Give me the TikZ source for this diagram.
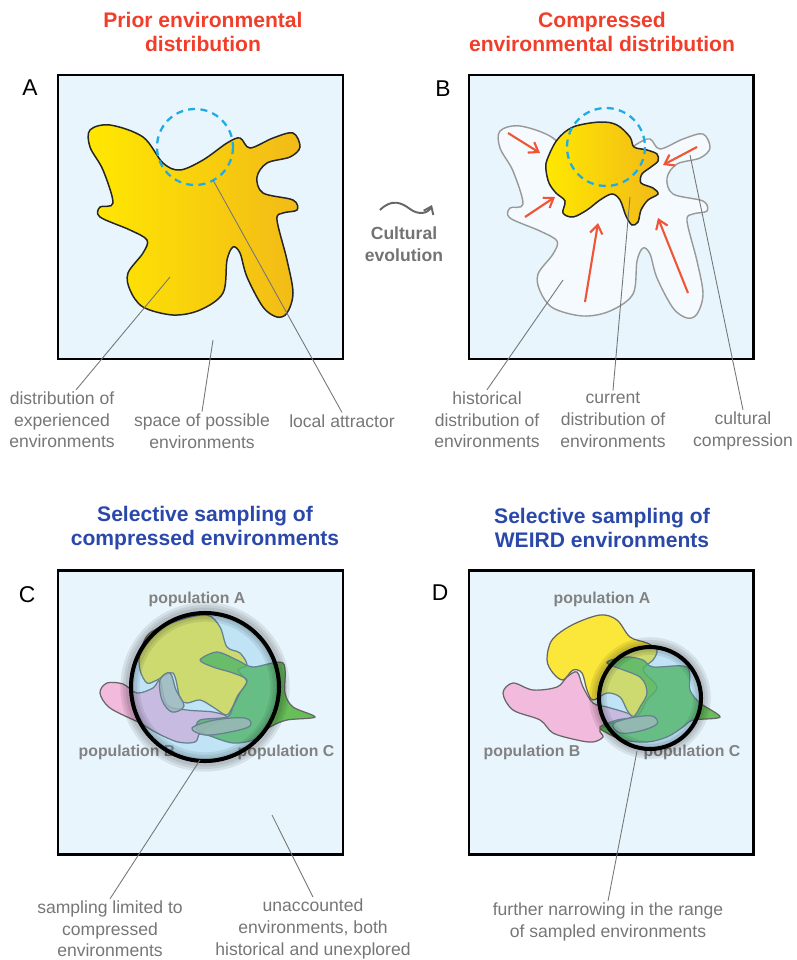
\documentclass[tikz,border=0pt]{standalone}
\usepackage{fontspec}
\setmainfont{Liberation Sans}
\usepackage{tikz}
\usetikzlibrary{arrows.meta,positioning,calc}
\usepackage{xcolor}

\definecolor{bgblue}{RGB}{232,245,252}
\definecolor{titlered}{RGB}{240,62,42}
\definecolor{titleblue}{RGB}{42,72,170}
\definecolor{notegray}{RGB}{118,118,118}
\definecolor{popgray}{RGB}{130,130,130}
\definecolor{yelL}{RGB}{255,232,0}
\definecolor{yelR}{RGB}{242,186,24}
\definecolor{arrred}{RGB}{240,85,55}
\definecolor{dashblue}{RGB}{30,172,230}
\definecolor{histfill}{RGB}{244,250,253}
\definecolor{pinkB}{RGB}{245,172,214}
\definecolor{greenC}{RGB}{72,178,50}
\definecolor{yellowA}{RGB}{255,228,10}
\definecolor{overlapgray}{RGB}{182,180,165}
\definecolor{lenstint}{RGB}{100,190,235}

\tikzset{
  panel/.style={draw=black,line width=1.7pt,fill=bgblue},
  title/.style={font=\fontsize{12}{13.6}\selectfont\bfseries,align=center},
  note/.style={font=\fontsize{10}{12.3}\selectfont,text=notegray,align=center,inner sep=1pt},
  leader/.style={draw=notegray,line width=0.5pt},
  popname/.style={font=\fontsize{9}{11}\selectfont\bfseries,text=popgray},
  letter/.style={font=\fontsize{13}{15}\selectfont},
  blob/.style={draw=black!85,line width=0.85pt},
  popblob/.style={draw=black!60,line width=0.7pt,fill opacity=0.8},
  attractor/.style={draw=dashblue,line width=1.3pt,dash pattern=on 4pt off 3pt},
  squeeze/.style={draw=arrred,line width=1.2pt,-{Straight Barb[length=5pt,width=7pt]}},
  lensring/.style={draw=black,line width=2.3pt},
}

% outline of the prior distribution (panel A, reused in B)
\newcommand{\blobA}{plot[smooth cycle,tension=0.55] coordinates {
  (90,130) (110,125) (143,137) (163,163) (180,170) (203,160) (227,143)
  (240,138) (250,148) (273,138) (293,133) (300,147) (290,157) (267,163)
  (257,177) (263,193) (293,200) (297,210) (283,213) (277,220) (287,260)
  (293,293) (287,313) (277,317) (263,307) (247,277) (240,253) (233,247)
  (227,260) (223,293) (200,310) (173,315) (143,307) (130,290) (128,273)
  (143,253) (147,240) (130,230) (100,217) (100,207) (113,203) (103,170)
  (90,147)}}

\begin{document}
\begin{tikzpicture}[x=0.02cm,y=-0.02cm]
  \useasboundingbox (0,0) rectangle (796,960);

  % titles
  \node[title,text=titlered] (tA) at (203,32) {Prior environmental\\distribution};
  \node[title,text=titlered] (tB) at (602,32) {Compressed\\environmental distribution};
  \node[title,text=titleblue] (tC) at (205,528) {Selective sampling of\\compressed environments};
  \node[title,text=titleblue] (tD) at (602,528) {Selective sampling of\\WEIRD environments};

  % panel A
  \draw[panel] (58,75) rectangle (343,359);
  \node[letter] (lA) at (30,88) {A};
  \draw[blob,left color=yelL,right color=yelR] \blobA;
  \draw[attractor] (195,147) circle[radius=38];
  \coordinate (distA) at (170,277);
  \coordinate (spaceA) at (213,340);
  \coordinate (attrA) at (213,180);
  \node[note] (nDist) at (62,420) {distribution of\\experienced\\environments};
  \node[note] (nSpace) at (202,431) {space of possible\\environments};
  \node[note] (nAttr) at (342,421) {local attractor};
  \draw[leader] (distA) -- (nDist.65);
  \draw[leader] (spaceA) -- (nSpace.north);
  \draw[leader] (attrA) -- (nAttr.north);

  % cultural evolution
  \coordinate (evoS) at (380,210);
  \coordinate (evoE) at (432,205);
  \draw[draw=black!60,line width=1.1pt,-{Straight Barb[length=4pt,width=6pt]}]
    (evoS) .. controls (392,198) and (402,203) .. (410,209)
    .. controls (418,215) and (428,214) .. (evoE);
  \node[font=\fontsize{10}{12.5}\selectfont\bfseries,text=black!55,align=center] (evo) at (404,244) {Cultural\\evolution};

  % panel B
  \draw[panel] (469,75) rectangle (753,359);
  \node[letter] (lB) at (443,89) {B};
  \draw[draw=black!40,line width=0.8pt,fill=histfill,shift={(410,1)}] \blobA;
  \draw[blob,left color=yelL,right color=yelR] plot[smooth cycle,tension=0.55] coordinates {
    (547,160) (557,140) (573,127) (600,122) (617,125) (630,137) (634,147)
    (647,150) (657,154) (658,161) (651,167) (642,174) (641,183) (653,188)
    (658,194) (648,200) (641,210) (638,222) (632,225) (626,216) (620,200)
    (612,194) (600,200) (587,210) (573,217) (563,213) (565,201) (556,193)
    (549,183) (546,170)};
  \draw[attractor] (606,147) circle[radius=39];
  \foreach \sx/\sy/\ex/\ey in {508/133/540/153, 525/217/555/197, 585/302/598/223,
                               688/293/658/218, 697/147/663/165}
    \draw[squeeze] (\sx,\sy) -- (\ex,\ey);
  \coordinate (histB) at (563,280);
  \coordinate (currB) at (630,197);
  \coordinate (compB) at (690,155);
  \node[note] (nHist) at (487,420) {historical\\distribution of\\environments};
  \node[note] (nCurr) at (613,420) {current\\distribution of\\environments};
  \node[note] (nComp) at (743,431) {cultural\\compression};
  \draw[leader] (histB) -- (nHist.north);
  \draw[leader] (currB) -- (nCurr.north);
  \draw[leader] (compB) -- (nComp.north);

  % panel C
  \draw[panel] (58,570) rectangle (343,854);
  \node[letter] (lC) at (27,595) {C};
  \draw[popblob,fill=pinkB] plot[smooth cycle,tension=0.55] coordinates {
    (100,693) (107,683) (123,684) (137,693) (153,688) (160,681) (167,705)
    (187,710) (213,712) (227,717) (213,724) (200,733) (195,742) (178,742)
    (157,733) (140,723) (110,708)};
  \draw[popblob,fill=yellowA] plot[smooth cycle,tension=0.55] coordinates {
    (140,653) (150,633) (180,620) (207,615) (220,627) (227,647) (240,653)
    (247,665) (238,670) (247,682) (238,695) (232,708) (226,715) (213,707)
    (200,700) (187,703) (180,698) (173,673) (157,680) (147,683) (140,670)};
  \draw[popblob,fill=greenC] plot[smooth cycle,tension=0.5] coordinates {
    (200,660) (217,652) (237,660) (253,667) (283,663) (285,693) (293,707)
    (315,717) (287,720) (270,727) (253,740) (233,743) (213,737) (197,730)
    (200,720) (227,717) (233,707) (240,693) (247,680) (233,673) (213,667)};
  \draw[popblob,fill=overlapgray] plot[smooth cycle,tension=0.6] coordinates {
    (160,680) (170,673) (176,690) (184,706) (172,712) (162,700)};
  \draw[popblob,fill=overlapgray] plot[smooth cycle,tension=0.6] coordinates {
    (192,728) (215,720) (245,718) (250,726) (230,732) (205,735)};
  \node[popname] (pAC) at (197,599) {population A};
  \node[popname] (pBC) at (127,752) {population B};
  \node[popname] (pCC) at (286,752) {population C};
  \coordinate (lensC) at (205,687);
  \fill[lenstint,opacity=0.3] (lensC) circle[radius=74];
  \foreach \w in {11,8,5}
    \draw[black,opacity=0.08,line width=\w pt] (lensC) circle[radius=75];
  \draw[lensring] (lensC) circle[radius=74];
  \coordinate (sampC) at (200,760);
  \coordinate (unaccC) at (272,815);
  \node[note] (nSamp) at (110,929) {sampling limited to\\compressed\\environments};
  \node[note] (nUnacc) at (313,929) {unaccounted\\environments, both\\historical and unexplored};
  \draw[leader] (sampC) -- (nSamp.north);
  \draw[leader] (unaccC) -- (nUnacc.north);

  % panel D
  \draw[panel] (469,570) rectangle (753,854);
  \node[letter] (lD) at (440,593) {D};
  \draw[popblob,fill=pinkB] plot[smooth cycle,tension=0.55] coordinates {
    (503,693) (513,683) (533,690) (557,687) (567,677) (577,672) (583,687)
    (593,703) (607,707) (627,713) (633,717) (613,723) (600,730) (603,737)
    (593,742) (577,740) (553,733) (540,720) (513,710)};
  \draw[popblob,fill=yellowA] plot[smooth cycle,tension=0.55] coordinates {
    (547,660) (552,640) (572,625) (600,615) (617,620) (630,637) (647,643)
    (657,650) (653,660) (643,670) (657,687) (647,700) (640,713) (633,717)
    (627,710) (620,697) (607,693) (593,700) (587,690) (582,673) (573,670)
    (563,680) (553,673)};
  \draw[popblob,fill=greenC] plot[smooth cycle,tension=0.5] coordinates {
    (607,663) (627,657) (643,660) (653,667) (687,667) (690,690) (700,703)
    (720,717) (693,720) (683,727) (667,737) (647,742) (623,740) (607,733)
    (600,727) (617,720) (633,717) (640,707) (647,693) (640,677)};
  \draw[popblob,fill=overlapgray] plot[smooth cycle,tension=0.6] coordinates {
    (613,724) (630,718) (652,716) (657,724) (640,731) (620,733)};
  \node[popname] (pAD) at (602,599) {population A};
  \node[popname] (pBD) at (532,752) {population B};
  \node[popname] (pCD) at (692,752) {population C};
  \coordinate (lensD) at (650,698);
  \fill[lenstint,opacity=0.3] (lensD) circle[radius=51];
  \foreach \w in {10,7,4}
    \draw[black,opacity=0.08,line width=\w pt] (lensD) circle[radius=52];
  \draw[lensring] (lensD) circle[radius=51];
  \coordinate (narrD) at (637,751);
  \node[note] (nNarr) at (608,922) {further narrowing in the range\\of sampled environments};
  \draw[leader] (narrD) -- (nNarr.north);
\end{tikzpicture}
\end{document}
